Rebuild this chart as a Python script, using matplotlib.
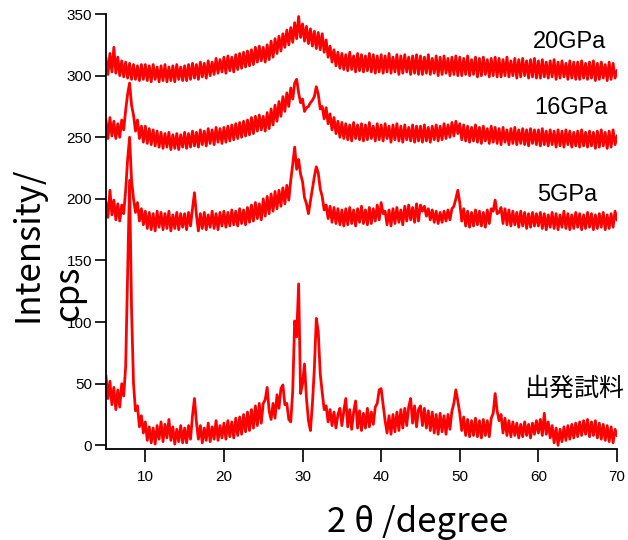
import numpy as np
import matplotlib.pyplot as plt

# 2theta grid, 0.25 degree step from 5 to 70
two_theta = np.linspace(5, 70, 261)

labels = ["出発試料", "5GPa", "16GPa", "20GPa"]
offsets = [0, 170, 235, 290]

start = [
    56, 38, 52, 33, 47, 29, 45, 31, 50, 40, 64, 140, 215, 110, 50, 28, 32, 15, 24, 10,
    19, 4, 15, 2, 14, 1, 16, 5, 19, 3, 17, 6, 21, 4, 15, 1, 13, 3, 16, 2,
    14, 2, 16, 5, 24, 38, 19, 5, 16, 2, 14, 4, 18, 3, 15, 5, 20, 4, 16, 6,
    18, 5, 20, 7, 19, 6, 22, 8, 23, 9, 25, 11, 27, 12, 29, 14, 32, 16, 34, 18,
    34, 37, 47, 28, 21, 34, 22, 41, 30, 46, 49, 33, 34, 21, 19, 44, 101, 88, 131, 42,
    50, 66, 38, 20, 12, 33, 62, 103, 92, 58, 43, 29, 32, 19, 29, 16, 27, 14, 25, 30,
    16, 28, 38, 15, 29, 13, 27, 36, 14, 28, 12, 26, 14, 30, 15, 27, 17, 31, 34, 45,
    46, 33, 20, 10, 24, 9, 25, 11, 27, 12, 29, 14, 30, 16, 31, 38, 18, 32, 15, 29,
    32, 16, 30, 14, 28, 12, 27, 10, 25, 9, 26, 11, 24, 9, 25, 13, 28, 34, 45, 36,
    26, 12, 23, 8, 21, 7, 20, 8, 22, 7, 20, 6, 21, 8, 20, 7, 22, 26, 42, 28,
    20, 25, 10, 22, 8, 20, 7, 19, 8, 18, 6, 17, 7, 19, 8, 17, 6, 18, 9, 20,
    10, 21, 8, 26, 9, 19, 6, 16, 2, 14, 0, 13, 3, 15, 4, 16, 5, 17, 6, 18,
    7, 19, 8, 20, 9, 21, 7, 19, 8, 20, 6, 18, 5, 17, 4, 16, 3, 15, 2, 13,
    8,
]

gpa5 = [
    27, 15, 37, 17, 29, 13, 26, 12, 25, 18, 37, 62, 80, 45, 30, 19, 27, 12, 22, 9,
    20, 6, 19, 5, 18, 4, 20, 7, 19, 5, 18, 6, 20, 4, 17, 6, 19, 5, 18, 7,
    18, 5, 19, 8, 22, 35, 17, 4, 18, 6, 19, 5, 17, 7, 20, 6, 18, 5, 19, 8,
    20, 7, 19, 8, 21, 9, 20, 8, 22, 10, 21, 9, 23, 11, 25, 12, 27, 14, 26, 13,
    30, 16, 32, 18, 34, 20, 36, 22, 37, 24, 39, 26, 41, 29, 45, 58, 72, 54, 62, 50,
    44, 31, 26, 18, 28, 38, 48, 56, 51, 38, 32, 21, 25, 14, 24, 11, 23, 10, 22, 9,
    21, 8, 22, 9, 23, 10, 21, 8, 22, 11, 24, 10, 21, 9, 23, 10, 22, 12, 25, 13,
    27, 18, 20, 9, 21, 8, 22, 10, 23, 11, 21, 9, 24, 12, 25, 13, 23, 11, 26, 12,
    25, 20, 24, 16, 22, 13, 21, 11, 20, 10, 19, 11, 20, 12, 21, 13, 22, 24, 30, 37,
    27, 12, 22, 8, 20, 7, 19, 8, 21, 9, 20, 8, 19, 7, 21, 10, 22, 20, 29, 18,
    19, 23, 10, 22, 9, 21, 8, 20, 9, 19, 7, 20, 8, 19, 6, 18, 7, 19, 8, 18,
    8, 19, 6, 18, 5, 17, 7, 19, 6, 18, 5, 17, 7, 20, 6, 18, 5, 17, 6, 19,
    7, 18, 5, 17, 6, 19, 7, 18, 5, 17, 6, 18, 7, 19, 5, 17, 6, 18, 7, 20,
    13,
]

gpa16 = [
    29, 14, 31, 16, 28, 14, 26, 15, 29, 21, 37, 50, 59, 41, 33, 20, 29, 14, 24, 11,
    24, 10, 22, 9, 21, 8, 20, 7, 19, 6, 18, 7, 19, 5, 17, 6, 18, 5, 17, 7,
    19, 6, 18, 7, 20, 8, 19, 7, 21, 9, 20, 8, 22, 10, 21, 9, 23, 11, 22, 10,
    23, 11, 24, 12, 25, 13, 26, 14, 27, 15, 28, 16, 29, 17, 31, 18, 32, 20, 33, 21,
    32, 20, 35, 22, 38, 25, 41, 28, 44, 32, 48, 36, 51, 40, 55, 46, 59, 62, 51, 43,
    46, 36, 39, 40, 43, 45, 48, 56, 50, 38, 40, 30, 39, 26, 34, 21, 31, 18, 28, 15,
    27, 14, 26, 13, 25, 12, 27, 14, 25, 13, 26, 12, 25, 13, 27, 14, 24, 12, 26, 13,
    25, 12, 26, 14, 24, 11, 25, 13, 26, 12, 24, 11, 25, 13, 23, 12, 25, 11, 24, 12,
    24, 11, 25, 12, 23, 11, 24, 13, 25, 12, 24, 13, 26, 14, 25, 15, 27, 16, 28, 18,
    26, 13, 25, 12, 24, 11, 23, 12, 25, 11, 23, 10, 24, 12, 22, 10, 24, 11, 23, 10,
    22, 9, 23, 11, 21, 9, 22, 10, 23, 9, 21, 10, 22, 9, 21, 8, 22, 10, 21, 9,
    21, 8, 22, 9, 20, 8, 21, 9, 20, 7, 21, 8, 20, 7, 21, 9, 20, 7, 19, 8,
    20, 7, 21, 8, 19, 7, 20, 8, 19, 6, 20, 7, 21, 8, 19, 6, 20, 7, 21, 9,
    16,
]

gpa20 = [
    24, 11, 28, 13, 33, 12, 25, 10, 22, 9, 21, 8, 20, 7, 19, 7, 18, 6, 19, 7,
    19, 6, 18, 5, 19, 7, 17, 5, 18, 6, 19, 5, 17, 6, 18, 5, 19, 7, 17, 6,
    18, 6, 19, 7, 20, 8, 19, 7, 21, 9, 20, 8, 22, 10, 21, 11, 24, 12, 23, 13,
    25, 12, 26, 14, 25, 13, 27, 15, 28, 16, 29, 17, 30, 18, 31, 19, 33, 21, 34, 22,
    33, 21, 35, 23, 38, 25, 40, 28, 42, 30, 44, 33, 47, 35, 49, 37, 53, 40, 58, 41,
    52, 38, 50, 36, 48, 34, 46, 32, 45, 31, 44, 29, 39, 25, 34, 21, 31, 18, 29, 16,
    28, 15, 27, 14, 29, 15, 26, 13, 28, 14, 27, 13, 26, 14, 28, 13, 27, 12, 26, 13,
    27, 12, 26, 13, 28, 12, 25, 13, 27, 11, 26, 12, 27, 13, 25, 11, 26, 12, 27, 11,
    26, 11, 25, 12, 27, 11, 24, 12, 26, 10, 25, 11, 26, 12, 24, 10, 25, 11, 26, 10,
    25, 10, 24, 11, 26, 10, 23, 11, 25, 9, 24, 10, 25, 11, 23, 9, 24, 10, 25, 9,
    24, 9, 23, 10, 25, 9, 22, 10, 24, 8, 23, 9, 24, 10, 22, 8, 23, 9, 24, 8,
    22, 8, 23, 9, 21, 8, 22, 9, 23, 7, 21, 8, 22, 9, 20, 7, 22, 8, 21, 7,
    21, 7, 22, 8, 20, 7, 21, 8, 22, 6, 20, 7, 21, 8, 19, 6, 21, 7, 20, 8,
    14,
]

# label positions in data coords
label_x = [64.6, 63.6, 64.1, 64.0]
label_y = [46, 203, 274, 327]
label_size = [18, 17, 17, 17]

fig = plt.figure(figsize=(6.28, 5.4), dpi=100)
ax = fig.add_axes([0.1688, 0.1685, 0.8137, 0.8055])

for vals, off in zip([start, gpa5, gpa16, gpa20], offsets):
    ax.plot(two_theta, np.array(vals) + off, color="#ff0000", lw=2.0)

for name, lx, ly, fs in zip(labels, label_x, label_y, label_size):
    ax.text(lx, ly, name, ha="center", va="center", fontsize=fs, clip_on=False,
            family=["Liberation Sans", "Noto Sans CJK JP"])

ax.set_xlim(5, 70)
ax.set_ylim(-3, 350)
ax.set_xticks(range(10, 71, 10))
ax.set_yticks(range(0, 351, 50))
for s in ["top", "right"]:
    ax.spines[s].set_visible(False)
for s in ["left", "bottom"]:
    ax.spines[s].set_linewidth(1.3)
ax.tick_params(axis="y", length=8, width=1.2, labelsize=11, pad=2)
ax.tick_params(axis="x", length=9, width=1.2, labelsize=11, pad=6)
for lab in ax.get_xticklabels() + ax.get_yticklabels():
    lab.set_family("Liberation Sans")

fig.text(418 / 628, 1 - 523 / 540, "2 θ /degree", ha="center", va="center",
         fontsize=25, family=["Noto Sans CJK JP", "DejaVu Sans"])
fig.text(28 / 628, 1 - 322 / 540, "Intensity/", rotation=90, ha="center",
         va="bottom", fontsize=25, family=["Noto Sans CJK JP", "DejaVu Sans"])
fig.text(69 / 628, 1 - 321 / 540, "cps", rotation=90, ha="center",
         va="bottom", fontsize=25, family=["Noto Sans CJK JP", "DejaVu Sans"])

fig.savefig("out.png", dpi=100)
